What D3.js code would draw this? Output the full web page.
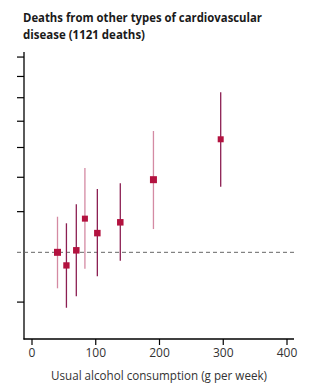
<!DOCTYPE html>
<html>
<head>
    <title>Deaths from other types of cardiovascular disease</title>
    <script src="https://cdnjs.cloudflare.com/ajax/libs/d3/7.8.5/d3.min.js" charset="utf-8"></script>
    <style>
    body { margin:0; background:#fff; }
    svg { display:block; }
    </style>
</head>
<body>
    <div class='svg-container'></div>
    <script>

    // alcohol intake (g per week) and hazard ratio with 95% CI
    var alcohol = [40, 54, 69.5, 83, 102.5, 138.5, 190.5, 296];
    var hr      = [1.00, 0.943, 1.009, 1.163, 1.090, 1.144, 1.385, 1.660];
    var lower   = [0.851, 0.780, 0.821, 0.929, 0.898, 0.963, 1.110, 1.342];
    var upper   = [1.173, 1.139, 1.240, 1.459, 1.328, 1.363, 1.723, 2.049];
    var boxSize = [7, 6.3, 6.5, 6, 6.5, 6.5, 7, 6];
    var ciTone  = ['light', 'dark', 'dark', 'light', 'dark', 'dark', 'light', 'dark'];

    var titleLines = ['Deaths from other types of cardiovascular', 'disease (1121 deaths)'];
    var titleWidths = [239, 122];

    var xTicks = [0, 100, 200, 300, 400];
    var yTicks = [0.8, 1.2, 1.4, 1.6, 1.8, 2.0, 2.2, 2.4];

    var width = 324;
    var height = 386;
    var font = '"Open Sans", "Liberation Sans", sans-serif';

    var svg = d3.select('.svg-container').append('svg')
        .attr('width', width)
        .attr('height', height);

    var x = d3.scaleLinear().domain([0, 400]).range([32, 287]);
    var y = d3.scaleLog().domain([0.678, 2.455]).range([339, 52]);

    // title, one text per line, squeezed to match the condensed journal face
    svg.selectAll('.title').data(titleLines).enter().append('text')
        .attr('class', 'title')
        .attr('x', 23)
        .attr('y', function(d, i) { return 22 + i * 16.5; })
        .attr('textLength', function(d, i) { return titleWidths[i]; })
        .attr('lengthAdjust', 'spacingAndGlyphs')
        .attr('font-family', font)
        .attr('font-weight', 'bold')
        .attr('font-size', 13)
        .attr('fill', '#1a1a1a')
        .text(function(d) { return d; });

    // axes
    svg.append('line')
        .attr('x1', 24).attr('x2', 24)
        .attr('y1', 52).attr('y2', 339.5)
        .attr('stroke', '#000').attr('stroke-width', 1.3);
    svg.append('line')
        .attr('x1', 23.5).attr('x2', 294)
        .attr('y1', 339).attr('y2', 339)
        .attr('stroke', '#000').attr('stroke-width', 1.3);

    svg.selectAll('.ytick').data(yTicks).enter().append('line')
        .attr('class', 'ytick')
        .attr('x1', 17).attr('x2', 24)
        .attr('y1', function(d) { return y(d); })
        .attr('y2', function(d) { return y(d); })
        .attr('stroke', '#000').attr('stroke-width', 1.2);

    svg.selectAll('.xtick').data(xTicks).enter().append('line')
        .attr('class', 'xtick')
        .attr('x1', function(d) { return x(d); })
        .attr('x2', function(d) { return x(d); })
        .attr('y1', 339).attr('y2', 345)
        .attr('stroke', '#000').attr('stroke-width', 1.2);

    svg.selectAll('.xlabel').data(xTicks).enter().append('text')
        .attr('class', 'xlabel')
        .attr('x', function(d) { return x(d); })
        .attr('y', 357)
        .attr('text-anchor', 'middle')
        .attr('font-family', font)
        .attr('font-size', 12)
        .attr('fill', '#333')
        .text(function(d) { return d; });

    svg.append('text')
        .attr('x', 51)
        .attr('y', 380)
        .attr('textLength', 216).attr('lengthAdjust', 'spacingAndGlyphs')
        .attr('font-family', font)
        .attr('font-size', 13)
        .attr('fill', '#333')
        .text('Usual alcohol consumption (g per week)');

    // reference line at HR = 1
    svg.append('line')
        .attr('x1', 17).attr('x2', 297)
        .attr('y1', y(1)).attr('y2', y(1))
        .attr('stroke', '#666')
        .attr('stroke-width', 1)
        .attr('stroke-dasharray', '4,3');

    // confidence intervals
    svg.selectAll('.ci').data(alcohol).enter().append('line')
        .attr('class', 'ci')
        .attr('x1', function(d) { return x(d); })
        .attr('x2', function(d) { return x(d); })
        .attr('y1', function(d, i) { return y(lower[i]); })
        .attr('y2', function(d, i) { return y(upper[i]); })
        .attr('stroke', function(d, i) { return ciTone[i] === 'light' ? '#d48aa3' : '#8c1f52'; })
        .attr('stroke-width', 1.3);

    // estimates
    svg.selectAll('.box').data(alcohol).enter().append('rect')
        .attr('class', 'box')
        .attr('x', function(d, i) { return x(d) - boxSize[i] / 2; })
        .attr('y', function(d, i) { return y(hr[i]) - boxSize[i] / 2; })
        .attr('width', function(d, i) { return boxSize[i]; })
        .attr('height', function(d, i) { return boxSize[i]; })
        .attr('fill', '#b3123f');

    </script>
</body>
</html>
